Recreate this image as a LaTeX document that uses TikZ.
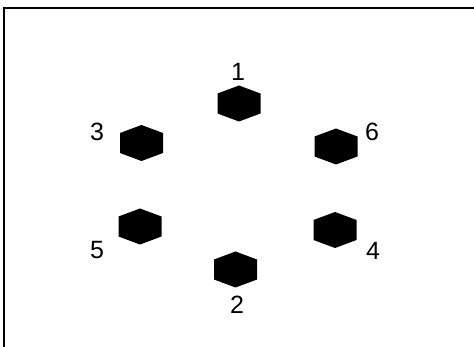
\documentclass[tikz,border=0pt]{standalone}
\usepackage{fontspec}
\setmainfont{Liberation Sans}
\usetikzlibrary{calc}
\begin{document}
\begin{tikzpicture}[x=1pt,y=-1pt,
  lbl/.style={font=\fontsize{25}{25}\selectfont, inner sep=0pt, text=black},
  hexfill/.style={fill=black}]
\useasboundingbox (0,0) rectangle (474,347);
\fill[white] (0,0) rectangle (474,347);
\draw[line width=2pt] (4,347) -- (4,8.5) -- (474,8.5);
% hexagons
\foreach \n/\cx/\cy in {h1/239/103.5, h3/141.5/143, h6/336/146.5, h5/140/226.5, h4/335/230, h2/235.5/269.5}{
  \coordinate (\n) at (\cx,\cy);
  \fill[hexfill] ($(\n)+(0,-18)$) -- ++(21.5,8) -- ++(0,20) -- ++(-21.5,8) -- ++(-21.5,-8) -- ++(0,-20) -- cycle;
}
\node[lbl] (l1) at (238,72) {1};
\node[lbl] (l3) at (97,132) {3};
\node[lbl] (l6) at (372,132) {6};
\node[lbl] (l5) at (97,250) {5};
\node[lbl] (l4) at (373,251) {4};
\node[lbl] (l2) at (237,305) {2};
\end{tikzpicture}
\end{document}
